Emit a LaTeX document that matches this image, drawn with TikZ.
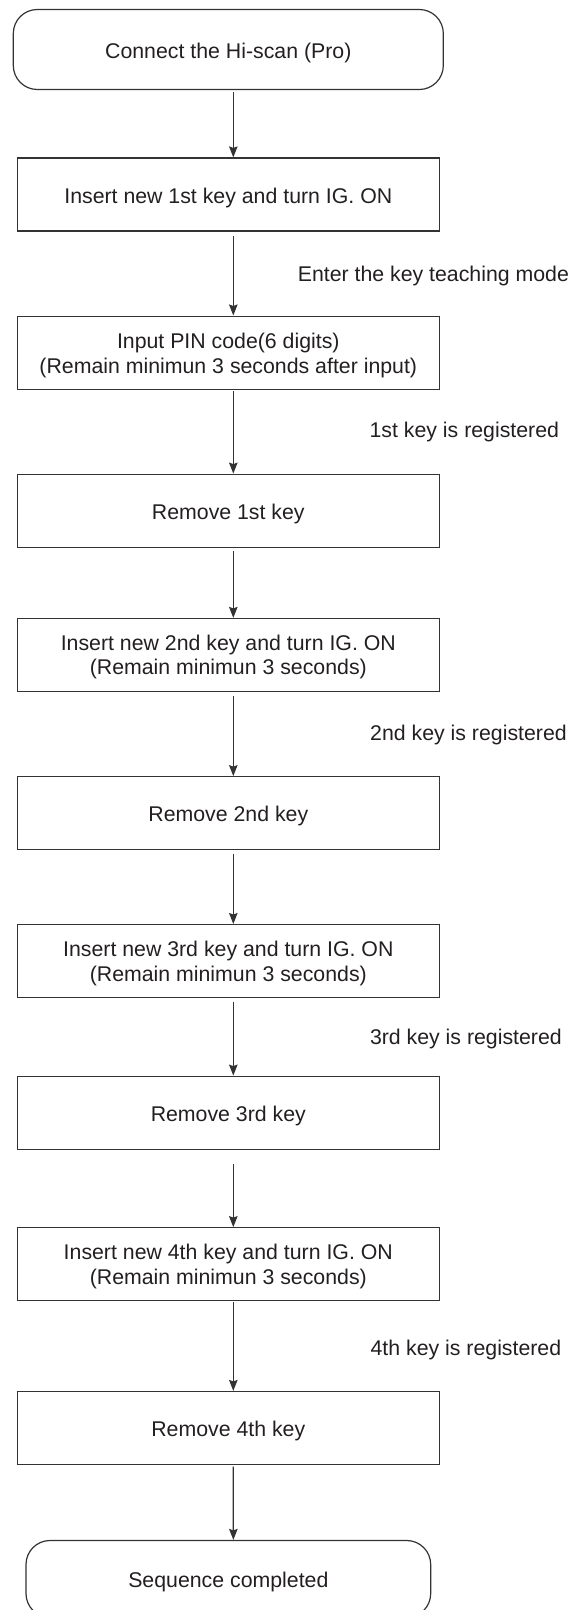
\documentclass[tikz,border=0pt]{standalone}
\usepackage{fontspec}
\setmainfont{Liberation Sans}
\usetikzlibrary{arrows.meta}
\definecolor{ink}{HTML}{231F20}
\definecolor{linec}{HTML}{333333}
\newcommand\bxt[2]{\raisebox{-#1}[\height][\depth]{\begin{tabular}{@{}c@{}}#2\end{tabular}}}
\frenchspacing
\begin{document}
\begin{tikzpicture}[x=1bp,y=-1bp,
  txt/.style={font=\fontsize{21.3bp}{24.5bp}\selectfont, text=ink},
  stepbox/.style={txt, draw=linec, line width=1.2bp, rectangle, inner sep=0pt,
    minimum width=422bp, minimum height=73bp},
  termbox/.style={txt, draw=linec, line width=1.2bp, rectangle, rounded corners=24bp,
    inner sep=0pt},
  note/.style={txt, inner sep=0pt, anchor=base west},
  arr/.style={draw=linec, line width=1.2bp, -{Stealth[length=11bp,width=8.5bp,inset=1.5bp]}}
]
\path[use as bounding box, clip] (0,0) rectangle (578,1610);

\node[termbox, minimum width=430bp, minimum height=80bp] (S) at (228.3,49.5)
  {\bxt{4.2bp}{Connect the Hi-scan (Pro)}};
\node[stepbox] (B1) at (228.3,194.5) {\bxt{4.2bp}{Insert new 1st key and turn IG. ON}};
\node[stepbox] (B2) at (228.3,352.6) {\bxt{3.3bp}{Input PIN code(6 digits)\\(Remain minimun 3 seconds after input)}};
\node[stepbox] (B3) at (228.3,510.7) {\bxt{3.5bp}{Remove 1st key}};
\node[stepbox] (B4) at (228.3,655.0) {\bxt{2.8bp}{Insert new 2nd key and turn IG. ON\\(Remain minimun 3 seconds)}};
\node[stepbox] (B5) at (228.3,813.2) {\bxt{3.5bp}{Remove 2nd key}};
\node[stepbox] (B6) at (228.3,961.1) {\bxt{2.8bp}{Insert new 3rd key and turn IG. ON\\(Remain minimun 3 seconds)}};
\node[stepbox] (B7) at (228.3,1112.7) {\bxt{3.5bp}{Remove 3rd key}};
\node[stepbox] (B8) at (228.3,1264.2) {\bxt{2.8bp}{Insert new 4th key and turn IG. ON\\(Remain minimun 3 seconds)}};
\node[stepbox] (B9) at (228.3,1428.0) {\bxt{3.5bp}{Remove 4th key}};
\node[termbox, minimum width=404.7bp, minimum height=77bp] (E) at (228.35,1579)
  {\bxt{3.7bp}{Sequence completed}};

\node[note] (L1) at (297.6,281.3) {Enter the key teaching mode};
\node[note] (L2) at (369.4,437.6) {1st key is registered};
\node[note] (L3) at (370.0,740.2) {2nd key is registered};
\node[note] (L4) at (369.8,1044.0) {3rd key is registered};
\node[note] (L5) at (370.4,1355.6) {4th key is registered};

\draw[arr] ([xshift=5bp,yshift=-2bp]S.south) -- ([xshift=5bp]B1.north);
\draw[arr] ([xshift=5bp,yshift=-4.5bp]B1.south) -- ([xshift=5bp]B2.north);
\draw[arr] ([xshift=5bp,yshift=-1.7bp]B2.south) -- ([xshift=5bp]B3.north);
\draw[arr] ([xshift=5bp,yshift=-3.4bp]B3.south) -- ([xshift=5bp]B4.north);
\draw[arr] ([xshift=5bp,yshift=-3.5bp]B4.south) -- ([xshift=5bp]B5.north);
\draw[arr] ([xshift=5bp,yshift=-3.4bp]B5.south) -- ([xshift=5bp]B6.north);
\draw[arr] ([xshift=5bp,yshift=-3.4bp]B6.south) -- ([xshift=5bp]B7.north);
\draw[arr] ([xshift=5bp,yshift=-14bp]B7.south) -- ([xshift=5bp]B8.north);
\draw[arr] ([xshift=5bp,yshift=-0.7bp]B8.south) -- ([xshift=5bp]B9.north);
\draw[arr] ([xshift=5bp,yshift=-1.4bp]B9.south) -- ([xshift=5bp]E.north);
\end{tikzpicture}
\end{document}
